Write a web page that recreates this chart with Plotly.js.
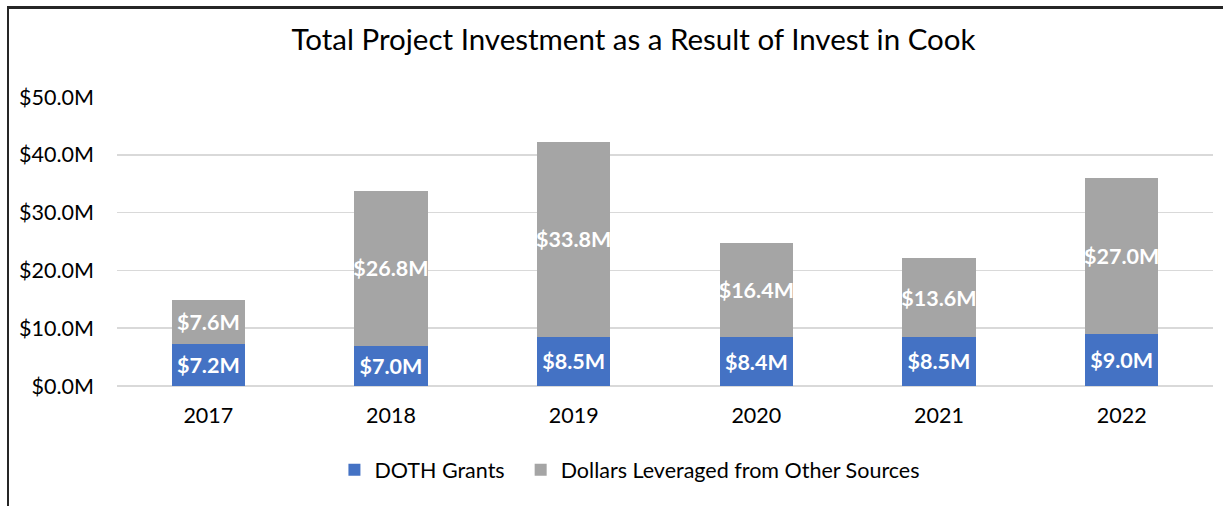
<!DOCTYPE html>
<html><head><meta charset="utf-8">
<script src="https://cdn.plot.ly/plotly-3.0.1.min.js"></script>
<style>
html,body{margin:0;padding:0;background:#fff;}
#wrap{position:relative;width:1223px;height:506px;}
#chart{position:absolute;left:0;top:0;width:1223px;height:506px;}
#frame{position:absolute;left:7px;top:6px;width:1216px;height:500px;border-left:2px solid #262626;border-top:3px solid #262626;pointer-events:none;box-sizing:border-box;}
</style></head>
<body>
<div id="wrap"><div id="chart"></div><div id="frame"></div></div>
<script>
const years = ['2017','2018','2019','2020','2021','2022'];
const dothGrants = [7.2, 7.0, 8.5, 8.4, 8.5, 9.0];
const leveraged = [7.6, 26.8, 33.8, 16.4, 13.6, 27.0];
const seriesNames = ['DOTH Grants\u00A0\u00A0', 'Dollars Leveraged from Other Sources'];
const titleText = 'Total Project Investment as a Result of Invest in Cook';

const FONT = 'Lato, "Open Sans", sans-serif';
const labelFont = {family: FONT, size: 21.5, color: '#ffffff', weight: 'bold'};

const traces = [
  {type:'bar', x: years, y: dothGrants, name: seriesNames[0],
   marker:{color:'#4472C4'}, texttemplate:'$%{y:.1f}M', textposition:'inside', textangle:0,
   insidetextanchor:'middle', constraintext:'none', textfont: labelFont, hoverinfo:'skip'},
  {type:'bar', x: years, y: leveraged, name: seriesNames[1],
   marker:{color:'#A5A5A5'}, texttemplate:'$%{y:.1f}M', textposition:'inside', textangle:0,
   insidetextanchor:'middle', constraintext:'none', textfont: labelFont, hoverinfo:'skip'}
];

const layout = {
  width:1223, height:506,
  margin:{l:117, r:10, t:97, b:120},
  paper_bgcolor:'#ffffff', plot_bgcolor:'#ffffff',
  barmode:'stack', bargap:0.6,
  font:{family: FONT, color:'#000000'},
  title:{text: titleText, font:{family: FONT, size:29.5, color:'#000000'}, x:0.518, xanchor:'center', y:0.921, yanchor:'middle', xref:'container'},
  xaxis:{type:'category', showgrid:false, zeroline:false, showline:false, ticks:'', ticklabelstandoff:14, tickfont:{size:21.5, color:'#000000'}},
  yaxis:{range:[0,50], dtick:10, tickprefix:'$', ticksuffix:'M', tickformat:'.1f', showgrid:true, gridcolor:'#D9D9D9', gridwidth:1.5,
         zeroline:true, zerolinecolor:'#D9D9D9', zerolinewidth:1.5, showline:false, ticks:'', ticklabelstandoff:22, tickfont:{size:21.5, color:'#000000'}},
  legend:{orientation:'h', x:0.468, xanchor:'center', y:-0.29, yanchor:'middle', font:{size:21.5, color:'#000000'}, traceorder:'normal'},
  showlegend:true
};

Plotly.newPlot('chart', traces, layout, {staticPlot:true, displayModeBar:false});
</script>
</body></html>
